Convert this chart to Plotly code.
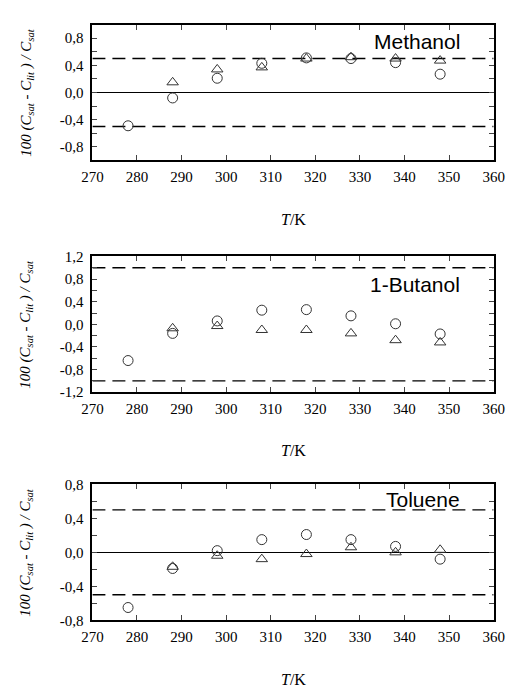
import plotly.graph_objects as go

T = [278, 288, 298, 308, 318, 328, 338, 348]

names = ["Methanol", "1-Butanol", "Toluene"]
circles = [
    [-0.49, -0.08, 0.21, 0.43, 0.51, 0.50, 0.44, 0.27],
    [-0.64, -0.16, 0.06, 0.25, 0.26, 0.15, 0.01, -0.17],
    [-0.65, -0.19, 0.02, 0.15, 0.21, 0.15, 0.07, -0.08],
]
triangles = [
    [None, 0.15, 0.34, 0.37, 0.50, 0.52, 0.50, 0.47],
    [None, -0.07, -0.03, -0.10, -0.10, -0.16, -0.28, -0.32],
    [None, -0.17, -0.04, -0.08, -0.02, 0.06, 0.00, 0.03],
]
limits = [0.5, 1.0, 0.5]
yranges = [[-1.0, 1.0], [-1.2, 1.2], [-0.8, 0.8]]
y_ticks = [
    [-0.8, -0.4, 0.0, 0.4, 0.8],
    [-1.2, -0.8, -0.4, 0.0, 0.4, 0.8, 1.2],
    [-0.8, -0.4, 0.0, 0.4, 0.8],
]
y_ticktext = [
    ["-0,8", "-0,4", "0,0", "0,4", "0,8"],
    ["-1,2", "-0,8", "-0,4", "0,0", "0,4", "0,8", "1,2"],
    ["-0,8", "-0,4", "0,0", "0,4", "0,8"],
]
show_zero = [True, False, True]
x_range = [270, 360]
x_ticks = [270, 280, 290, 300, 310, 320, 330, 340, 350, 360]

W, H = 519, 694
left, right = 85, 504
tops = [17, 254.3, 487.7]
ph = 139
tk_y = [217, 453, 687]
label_y = [0.878, 0.791, 0.888]

SERIF = "Liberation Serif"
fig = go.Figure()
layout = dict(
    width=W, height=H, margin=dict(l=0, r=0, t=0, b=0),
    paper_bgcolor="white", plot_bgcolor="white", showlegend=False,
    font=dict(family=SERIF, size=15, color="black"),
    annotations=[],
)

ylab = "100 (C<sub>sat</sub> - C<sub>lit</sub> ) / C<sub>sat</sub>"

for i in range(3):
    xa = "x" if i == 0 else f"x{i+1}"
    ya = "y" if i == 0 else f"y{i+1}"
    xkey = "xaxis" if i == 0 else f"xaxis{i+1}"
    ykey = "yaxis" if i == 0 else f"yaxis{i+1}"
    lo, hi = yranges[i]
    lim = limits[i]
    for s in (1, -1):
        fig.add_trace(go.Scatter(
            x=x_range, y=[s * lim, s * lim], mode="lines", xaxis=xa, yaxis=ya,
            line=dict(color="black", width=1.4, dash="13px,7px"), hoverinfo="skip"))
    fig.add_trace(go.Scatter(
        x=T, y=circles[i], mode="markers", xaxis=xa, yaxis=ya,
        marker=dict(symbol="circle-open", size=10, color="#333333",
                    line=dict(width=1, color="#333333"))))
    fig.add_trace(go.Scatter(
        x=T, y=triangles[i], mode="markers", xaxis=xa, yaxis=ya,
        marker=dict(symbol="triangle-up-open", size=10, color="#333333",
                    line=dict(width=1, color="#333333"))))

    top = tops[i]
    bot = top + ph
    ydom = [1 - bot / H, 1 - top / H]
    layout[xkey] = dict(
        domain=[left / W, right / W], range=x_range, anchor=ya,
        tickvals=x_ticks, ticks="inside", ticklen=5, tickwidth=1,
        showline=True, linewidth=2, linecolor="black", mirror="ticks",
        showgrid=False, zeroline=False, ticklabelstandoff=2,
        tickfont=dict(family=SERIF, size=15, color="black"),
    )
    layout[ykey] = dict(
        domain=ydom, range=[lo, hi], anchor=xa,
        tickvals=y_ticks[i], ticktext=y_ticktext[i], ticks="inside", ticklen=5, tickwidth=1,
        minor=dict(tick0=0, dtick=0.2, ticks="inside", ticklen=5, tickwidth=1, showgrid=False),
        showline=True, linewidth=2, linecolor="black", mirror="ticks",
        showgrid=False, zeroline=show_zero[i], zerolinecolor="black",
        zerolinewidth=1.4, ticklabelstandoff=4,
        tickfont=dict(family=SERIF, size=15, color="black"),
    )
    layout["annotations"].append(dict(
        text=names[i], xref=f"{xa} domain", yref=f"{ya} domain",
        x=0.921, y=label_y[i], xanchor="right", yanchor="middle",
        showarrow=False, font=dict(family="Liberation Sans", size=21, color="black")))
    layout["annotations"].append(dict(
        text="<i>T</i>/K", xref="paper", yref="paper",
        x=295 / W, y=1 - tk_y[i] / H, xanchor="center", yanchor="middle",
        showarrow=False, font=dict(family=SERIF, size=16, color="black")))
    layout["annotations"].append(dict(
        text="<i>" + ylab + "</i>", xref="paper", yref="paper",
        x=16 / W, y=(ydom[0] + ydom[1]) / 2, xanchor="center", yanchor="middle",
        textangle=-90, showarrow=False,
        font=dict(family=SERIF, size=15, color="black")))

fig.update_layout(**layout)
fig.write_html("out.html")
